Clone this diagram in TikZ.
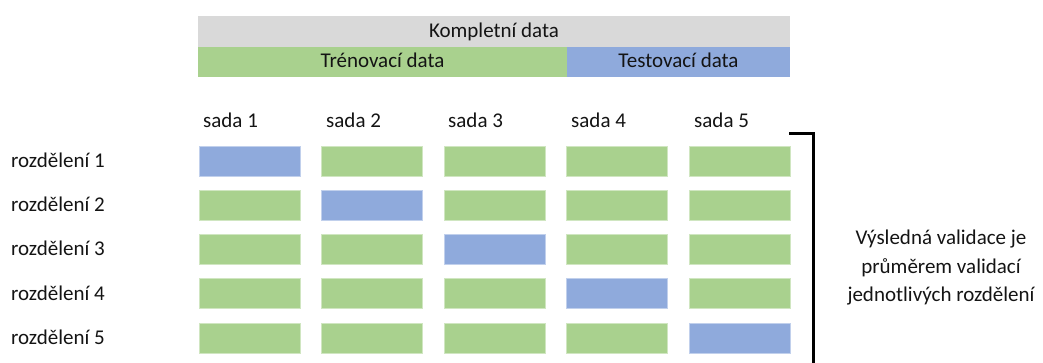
\documentclass[tikz,border=0pt]{standalone}
\usepackage{fontspec}
\setmainfont{Carlito}
\definecolor{cgreen}{RGB}{169,209,142}
\definecolor{cblue}{RGB}{143,170,220}
\definecolor{cgray}{RGB}{217,217,217}
\definecolor{ctext}{RGB}{20,20,20}
\begin{document}
\begin{tikzpicture}[x=1pt,y=-1pt,
  txt/.style={font=\fontsize{21}{28}\selectfont, text=ctext, inner sep=0pt},
  cell/.style={minimum width=101pt, minimum height=30pt, inner sep=0pt, line width=0.8pt},
  gbox/.style={cell, fill=cgreen, draw=cgreen!55!white},
  bbox/.style={cell, fill=cblue, draw=cblue!55!white},
  bar/.style={inner sep=0pt, anchor=north west}
]
\useasboundingbox (0,0) rectangle (1043,363);
% header bars
\node[bar, fill=cgray, minimum width=592pt, minimum height=31pt] (full) at (198,16) {};
\node[bar, fill=cgreen, minimum width=369pt, minimum height=30pt] (train) at (198,47) {};
\node[bar, fill=cblue, minimum width=223pt, minimum height=30pt] (test) at (567,47) {};
\node[txt, anchor=base] (fullt) at (494,38) {Kompletní data};
\node[txt, anchor=base] (traint) at (382.5,68) {Trénovací data};
\node[txt, anchor=base] (testt) at (678.5,68) {Testovací data};
% column headers
\foreach \i/\x in {1/203,2/326,3/448,4/571,5/694}
  \node[txt, anchor=base west] (s\i) at (\x,128) {sada \i};
% rows
\foreach \r/\y in {1/161,2/205,3/249,4/293.5,5/338} {
  \node[txt, anchor=base west] (r\r) at (11,\y+6.5) {rozdělení \r};
  \foreach \c/\x in {1/249.5,2/372,3/494.5,4/617,5/740} {
    \ifnum\r=\c
      \node[bbox] (b\r\c) at (\x,\y) {};
    \else
      \node[gbox] (b\r\c) at (\x,\y) {};
    \fi
  }
}
% bracket
\coordinate (brA) at (789,133.3);
\coordinate (brB) at (813.5,133.3);
\coordinate (brC) at (813.5,363);
\draw[line width=3pt, line cap=butt, line join=miter] (brA) -- (brB) -- (brC);
\node[txt, align=center, font=\fontsize{21}{28.5}\selectfont] (res) at (941,268)
  {Výsledná validace je\\průměrem validací\\jednotlivých rozdělení};
\end{tikzpicture}
\end{document}
